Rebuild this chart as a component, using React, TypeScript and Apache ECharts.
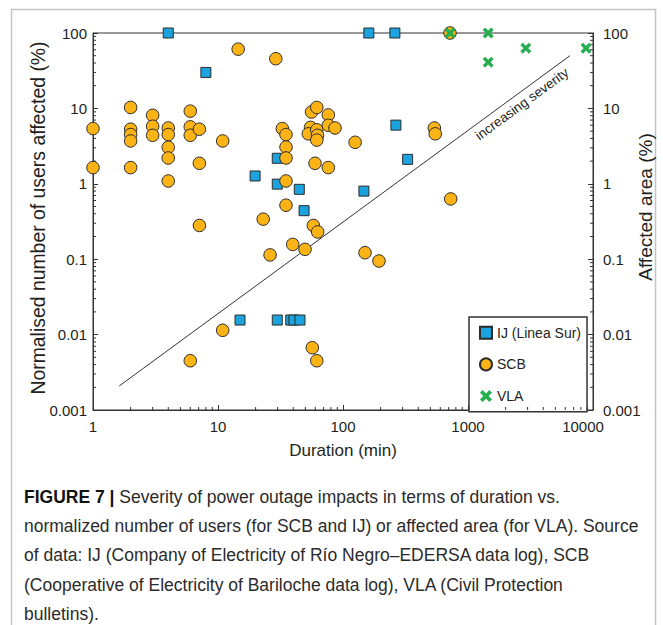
import React, { useEffect, useRef } from "react";
import * as echarts from "echarts";

// ---- Data ----
const xTickLabels = ["1", "10", "100", "1000", "10000"];
const yTickLabels = ["0.001", "0.01", "0.1", "1", "10", "100"];
const yTitleLeft = "Normalised number of users affected (%)";
const yTitleRight = "Affected area (%)";

// IJ (Linea Sur): [duration (min), normalised users affected (%)]
const ijPoints = [
  [4, 100], [8, 30], [161, 100], [260, 100],
  [29.8, 2.18], [19.8, 1.27], [29.8, 0.99], [44.7, 0.845], [48.8, 0.44],
  [265, 6], [329, 2.11], [147, 0.8],
  [15, 0.0156], [29.8, 0.0156], [38.2, 0.0156], [40.5, 0.0156], [45.3, 0.0156],
];

// SCB: [duration (min), normalised users affected (%)]
const scbPoints = [
  [1, 5.4], [1, 1.64],
  [2, 10.3], [2, 5.3], [2, 4.5], [2, 3.7], [2, 1.64],
  [3, 8.1], [3, 5.8], [3, 4.4],
  [4, 5.5], [4, 4.5], [4, 3.05], [4, 2.2], [4, 1.09],
  [6, 9.2], [6, 5.7], [6, 4.4],
  [7.1, 5.3], [7.1, 1.87], [7.1, 0.28],
  [10.9, 3.7], [14.5, 61], [29, 45.6],
  [32.7, 5.4], [35, 4.5], [35, 3.07], [35, 2.2], [35, 1.09], [35, 0.52],
  [23, 0.34], [26.1, 0.114], [39.6, 0.157], [49.7, 0.135],
  [56, 8.96], [61.7, 10.3], [55, 5.6], [52.8, 4.6], [61.7, 5.2], [62.5, 4.4], [61.7, 3.8], [59.7, 1.87],
  [76.3, 8.2], [76.3, 5.97], [86.3, 5.5], [76.3, 1.64],
  [57.9, 0.28], [62.7, 0.23],
  [10.9, 0.0114], [6, 0.0045], [56.8, 0.0067], [61.7, 0.0045],
  [125, 3.55], [538, 5.5], [547, 4.6], [727, 0.63], [150, 0.122], [194, 0.0946],
  [718, 100],
];

// VLA: [duration (min), affected area (%)]
const vlaPoints = [
  [718, 100], [1450, 100], [1450, 41], [2900, 63], [8800, 63],
];

// "increasing severity" arrow, in data coordinates
const arrowStart = [1.62, 0.00208];
const arrowEnd = [6546, 50];

// log minor tick positions (2..9 in each decade)
const minorSteps = [2, 3, 4, 5, 6, 7, 8, 9];
const xDecades = [1, 10, 100, 1000];
const yDecades = [0.001, 0.01, 0.1, 1, 10];
const xMinorTicks: number[][] = [];
xDecades.forEach((d) => minorSteps.forEach((s) => xMinorTicks.push([+(d * s).toPrecision(6), 0.001])));
const yMinorTicks: number[][] = [];
yDecades.forEach((d) => minorSteps.forEach((s) => yMinorTicks.push([1, +(d * s).toPrecision(6)])));

const captionLines = [
  "{b|FIGURE 7 |} Severity of power outage impacts in terms of duration vs.",
  "normalized number of users (for SCB and IJ) or affected area (for VLA). Source",
  "of data: IJ (Company of Electricity of Río Negro–EDERSA data log), SCB",
  "(Cooperative of Electricity of Bariloche data log), VLA (Civil Protection",
  "bulletins).",
];

const FONT = "'Liberation Sans', Arial, Helvetica, sans-serif";
const INK = "#231f20";
const X_PATH = "path://M0,2.2L2.2,0L5,2.8L7.8,0L10,2.2L7.2,5L10,7.8L7.8,10L5,7.2L2.2,10L0,7.8L2.8,5Z";

export default function App() {
  const ref = useRef<HTMLDivElement>(null);

  useEffect(() => {
    if (!ref.current) return;
    const chart = echarts.init(ref.current, undefined, { renderer: "svg" });

    const xLabel = (v: number) => {
      const i = Math.round(Math.log10(v));
      const s = xTickLabels[i] ?? String(v);
      return i === xTickLabels.length - 1 ? `{last|${s}}` : s;
    };
    const yLabel = (v: number) => {
      const i = Math.round(Math.log10(v)) + 3;
      return yTickLabels[i] ?? String(v);
    };

    const option: any = {
      animation: false,
      backgroundColor: "#ffffff",
      textStyle: { fontFamily: FONT },
      grid: {
        left: 93,
        right: 70,
        top: 33,
        bottom: 215,
        containLabel: false,
        outerBoundsMode: "none",
        show: true,
        borderColor: "#333",
        borderWidth: 1,
        backgroundColor: "transparent",
      },
      xAxis: {
        type: "log",
        logBase: 10,
        min: 1,
        max: 10000,
        splitNumber: 4,
        name: "Duration (min)",
        nameLocation: "middle",
        nameGap: 32,
        nameTextStyle: { fontSize: 17, color: INK, fontFamily: FONT },
        axisLine: { show: true, lineStyle: { color: "#333", width: 1 } },
        axisTick: { show: true, inside: true, length: 5, lineStyle: { color: "#333" } },
        axisLabel: {
          fontSize: 15,
          color: INK,
          margin: 9,
          fontFamily: FONT,
          formatter: xLabel,
          rich: { last: { fontSize: 15, color: INK, fontFamily: FONT, padding: [0, 20, 0, 0] } },
        },
        splitLine: { show: false },
      },
      yAxis: [
        {
          type: "log",
          logBase: 10,
          min: 0.001,
          max: 100,
          splitNumber: 5,
          position: "left",
          axisLine: { show: true, lineStyle: { color: "#333", width: 1 } },
          axisTick: { show: true, inside: true, length: 5, lineStyle: { color: "#333" } },
          axisLabel: { fontSize: 15, color: INK, margin: 6, fontFamily: FONT, formatter: yLabel },
          splitLine: { show: false },
        },
        {
          type: "log",
          logBase: 10,
          min: 0.001,
          max: 100,
          splitNumber: 5,
          position: "right",
          axisLine: { show: true, lineStyle: { color: "#333", width: 1 } },
          axisTick: { show: true, inside: true, length: 5, lineStyle: { color: "#333" } },
          axisLabel: { fontSize: 15, color: INK, margin: 10, fontFamily: FONT, formatter: yLabel },
          splitLine: { show: false },
        },
      ],
      legend: {
        orient: "vertical",
        left: 469,
        top: 317,
        data: ["IJ (Linea Sur)", "SCB", "VLA"],
        itemWidth: 12,
        itemHeight: 12,
        itemGap: 17.7,
        padding: [8.7, 6, 8.7, 10],
        borderColor: "#333",
        borderWidth: 1.5,
        backgroundColor: "#fff",
        textStyle: { fontSize: 14, color: INK, fontFamily: FONT },
        selectedMode: false,
      },
      series: [
        {
          name: "x-minor-ticks",
          type: "custom",
          silent: true,
          clip: false,
          z: 5,
          data: xMinorTicks,
          renderItem: (_p: any, api: any) => {
            const c = api.coord([api.value(0), api.value(1)]);
            return {
              type: "line",
              shape: { x1: c[0], y1: c[1], x2: c[0], y2: c[1] - 3 },
              style: { stroke: "#333", lineWidth: 1 },
            };
          },
        },
        {
          name: "y-minor-ticks",
          type: "custom",
          silent: true,
          clip: false,
          z: 5,
          data: yMinorTicks,
          renderItem: (_p: any, api: any) => {
            const l = api.coord([1, api.value(1)]);
            const r = api.coord([10000, api.value(1)]);
            return {
              type: "group",
              children: [
                {
                  type: "line",
                  shape: { x1: l[0], y1: l[1], x2: l[0] + 3, y2: l[1] },
                  style: { stroke: "#333", lineWidth: 1 },
                },
                {
                  type: "line",
                  shape: { x1: r[0], y1: r[1], x2: r[0] - 3, y2: r[1] },
                  style: { stroke: "#333", lineWidth: 1 },
                },
              ],
            };
          },
        },
        {
          name: "arrow",
          type: "line",
          data: [],
          silent: true,
          markLine: {
            silent: true,
            symbol: ["none", "arrow"],
            symbolSize: [0, 8],
            label: { show: false },
            lineStyle: { color: "#333", width: 1, type: "solid" },
            data: [[{ coord: arrowStart }, { coord: arrowEnd }]],
          },
        },
        {
          name: "IJ (Linea Sur)",
          type: "scatter",
          symbol: "rect",
          symbolSize: 10,
          data: ijPoints,
          z: 10,
          itemStyle: { color: "#1aa3de", borderColor: "#2b2b2b", borderWidth: 1, opacity: 1 },
        },
        {
          name: "SCB",
          type: "scatter",
          symbol: "circle",
          symbolSize: 12.5,
          data: scbPoints,
          z: 11,
          itemStyle: { color: "#fbb315", borderColor: "#2b2b2b", borderWidth: 1, opacity: 1 },
        },
        {
          name: "VLA",
          type: "scatter",
          symbol: X_PATH,
          symbolSize: 11,
          yAxisIndex: 1,
          data: vlaPoints,
          z: 12,
          itemStyle: { color: "#27ae4f", borderWidth: 0, opacity: 1 },
        },
      ],
      graphic: [
        {
          type: "rect",
          silent: true,
          z: -10,
          shape: { x: 11.5, y: 9.5, width: 644, height: 700 },
          style: { fill: "none", stroke: "#c4c4c4", lineWidth: 1.5 },
        },
        {
          type: "text",
          silent: true,
          x: 37.5,
          y: 218,
          rotation: Math.PI / 2,
          style: {
            text: yTitleLeft,
            fontSize: 19.4,
            fontFamily: FONT,
            fill: INK,
            align: "center",
            verticalAlign: "middle",
          },
        },
        {
          type: "text",
          silent: true,
          x: 645,
          y: 207,
          rotation: Math.PI / 2,
          style: {
            text: yTitleRight,
            fontSize: 19,
            fontFamily: FONT,
            fill: INK,
            align: "center",
            verticalAlign: "middle",
          },
        },
        {
          type: "text",
          silent: true,
          x: 522,
          y: 104,
          rotation: (36.2 * Math.PI) / 180,
          style: {
            text: "increasing severity",
            fontSize: 13.5,
            fontFamily: FONT,
            fill: INK,
            align: "center",
            verticalAlign: "middle",
          },
        },
        ...captionLines.map((t, i) => ({
          type: "text",
          silent: true,
          x: 24,
          y: 497 + i * 29.2,
          style: {
            text: t,
            fontSize: 17.5,
            fontFamily: FONT,
            fill: "#2b2b2b",
            align: "left",
            verticalAlign: "middle",
            rich: {
              b: { fontSize: 17.5, fontFamily: FONT, fontWeight: "bold", fill: "#111" },
            },
          },
        })),
      ],
    };

    chart.setOption(option);
    return () => chart.dispose();
  }, []);

  return (
    <div
      ref={ref}
      style={{ position: "absolute", left: 0, top: 0, width: 663, height: 625, background: "#fff" }}
    />
  );
}
